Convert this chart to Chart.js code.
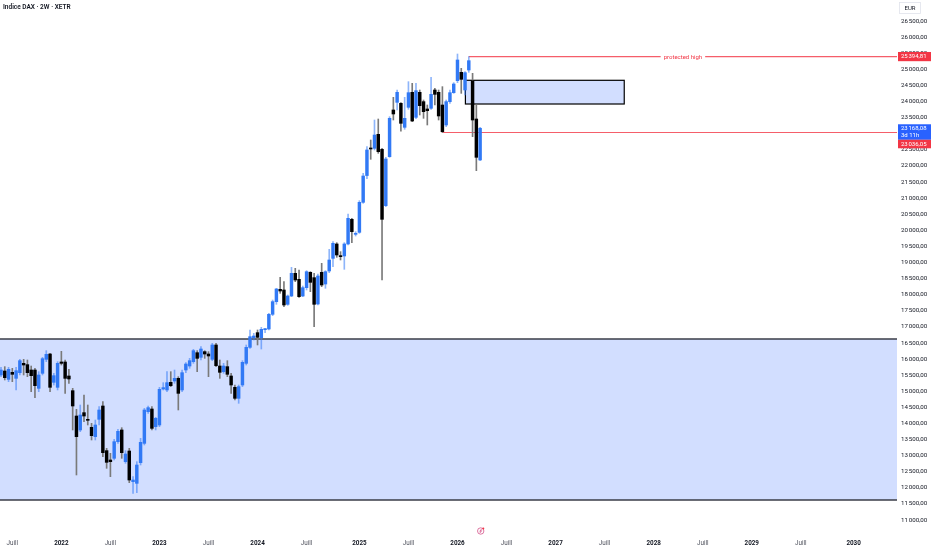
<!DOCTYPE html>
<html>
<head>
<meta charset="utf-8">
<title>Indice DAX 2W</title>
<script src="https://cdn.jsdelivr.net/npm/chart.js@4.4.1/dist/chart.umd.min.js"></script>
<style>
  html, body { margin: 0; padding: 0; background: #fff; }
  #wrap { width: 932px; height: 550px; position: relative; }
</style>
</head>
<body>
<div id="wrap"><canvas id="dax"></canvas></div>
<script>
// biweekly candles (oldest first)
const opens = [
  15505, 15629, 15370, 15588, 15401, 15577, 15867, 15826, 15660, 15660,
  15091, 15557, 15991, 16157, 15277, 15122, 15909, 15909, 15474, 15018,
  14231, 13797, 14335, 14128, 13879, 13590, 14128, 14542, 13155, 12865,
  12917, 13434, 13797, 12813, 13144, 12192, 12140, 12782, 13382, 14366,
  14449, 13900, 13952, 15070, 15039, 15277, 15319, 15401, 15039, 15660,
  15784, 15919, 16198, 16054, 16230, 16157, 15991, 16437, 15784, 15608,
  15764, 15474, 15122, 14780, 15194, 15867, 16364, 16665, 16820, 16665,
  16913, 16934, 17389, 17783, 18166, 18145, 17700, 17958, 18663, 18476,
  17958, 18217, 18694, 18528, 17710, 18694, 18331, 18735, 19128, 19574,
  19212, 19201, 19574, 20340, 19874, 19936, 20868, 21700, 22545, 22545,
  22980, 22514, 20765, 22286, 23736, 23974, 23943, 23198, 23819, 24285,
  23508, 24285, 23995, 23767, 23788, 24357, 24285, 23891, 23270, 23995,
  24274, 24647, 24906, 24357, 24978, 24647, 23456, 22183
];
const highs = [
  15743, 15764, 15743, 15712, 15743, 15991, 15991, 15971, 15784, 15712,
  15608, 16054, 16261, 16178, 15557, 15919, 16240, 15971, 15681, 15091,
  14438, 14573, 14884, 14573, 14004, 14107, 14521, 14677, 13227, 13072,
  13507, 13817, 13869, 13155, 13227, 12347, 12813, 13538, 14469, 14542,
  14521, 14190, 15122, 15267, 15608, 15608, 15660, 15453, 15660, 15888,
  16022, 16302, 16261, 16385, 16261, 16230, 16488, 16488, 15971, 15867,
  15950, 15557, 15194, 15194, 15950, 16437, 16903, 16799, 16903, 16985,
  16954, 17420, 17834, 18197, 18539, 18404, 17990, 18849, 18818, 18766,
  18269, 18745, 18714, 18663, 18642, 18973, 18745, 19408, 19646, 19615,
  19336, 19615, 20506, 20371, 19957, 20920, 21769, 22597, 22804, 23425,
  23456, 22545, 22266, 23529, 24129, 24357, 23964, 24129, 24616, 24564,
  24564, 24357, 24046, 23891, 24750, 24409, 24357, 24461, 24046, 24357,
  24585, 25475, 25030, 24926, 25394.81, 24875, 23891, 23200
];
const lows = [
  15453, 15350, 15298, 15298, 15039, 15505, 15505, 15453, 14987, 14801,
  14987, 15505, 15919, 14987, 15194, 15039, 15815, 14935, 15246, 13797,
  12399, 13745, 14055, 13952, 13486, 13486, 13952, 12968, 12606, 12347,
  12865, 13382, 12917, 12761, 12161, 11830, 11850, 12709, 13331, 14314,
  13797, 13797, 13900, 15039, 14987, 15143, 15246, 14418, 14987, 15577,
  15712, 15867, 15608, 15971, 16022, 15453, 15950, 15764, 15401, 15557,
  15453, 14935, 14728, 14625, 15143, 15815, 16333, 16592, 16437, 16312,
  16820, 16903, 17348, 17700, 18042, 17627, 17669, 17938, 18404, 17917,
  17938, 18145, 18093, 17006, 17679, 18249, 18197, 18683, 18870, 19160,
  19077, 18787, 19543, 19615, 19822, 19905, 20837, 21600, 22204, 22494,
  22390, 18456, 20734, 22266, 23425, 23736, 23080, 23136, 23757, 23374,
  23467, 23581, 23477, 23270, 23757, 23891, 23425, 23036, 23218, 23943,
  24253, 24585, 24253, 24202, 24906, 22908, 21852, 22162
];
const closes = [
  15660, 15422, 15681, 15526, 15639, 15950, 15815, 15577, 15484, 15174,
  15505, 16012, 16147, 15122, 15484, 15867, 15867, 15401, 15381, 14542,
  13590, 14262, 14231, 14097, 13621, 13952, 14418, 13093, 12792, 12813,
  13434, 13755, 13093, 13051, 12243, 12243, 12709, 13413, 14418, 14490,
  13848, 14159, 15060, 15112, 15267, 15174, 15401, 14935, 15577, 15846,
  15950, 16261, 16022, 16312, 16157, 16095, 16437, 15795, 15588, 15784,
  15526, 15194, 14780, 15143, 15898, 16364, 16695, 16716, 16675, 16923,
  16934, 17389, 17783, 18176, 18114, 17679, 17958, 18663, 18456, 17938,
  18217, 18714, 18383, 17700, 18580, 18300, 18714, 19077, 19594, 19232,
  19180, 19574, 20371, 19957, 19905, 20868, 21686, 22494, 22525, 22959,
  22442, 20340, 22214, 23477, 23612, 24285, 23322, 23477, 24274, 23394,
  24336, 23871, 23684, 23715, 24222, 24222, 23550, 23063, 23995, 24274,
  24543, 25289, 24688, 24895, 25268, 23425, 22266, 23168.08
];

// time axis: bar index of each label
const xTickBars = [3, 16, 29, 42, 55, 68, 81, 95, 108, 121, 134, 147, 160, 173, 186, 199, 212, 226];
const xTickLabels = ["Juill", "2022", "Juill", "2023", "Juill", "2024", "Juill", "2025", "Juill",
  "2026", "Juill", "2027", "Juill", "2028", "Juill", "2029", "Juill", "2030"];
const yTicks = [11000, 11500, 12000, 12500, 13000, 13500, 14000, 14500, 15000, 15500, 16000,
  16500, 17000, 17500, 18000, 18500, 19000, 19500, 20000, 20500, 21000, 21500, 22000,
  22500, 23000, 23500, 24000, 24500, 25000, 25500, 26000, 26500];

// drawings on the chart
const zoneLevels = [11622, 16623];
const boxLevels = [23922, 24658];
const boxBars = [123.1, 165.2];
const protectedHigh = 25394.81;
const protectedHighBar = 124;
const supportLevel = 23036.05;
const supportBar = 117;
const lastPrice = 23168.08;
const countdown = "3d 11h";

const BULL = "#3179f5";
const BULL_WICK = "rgba(49, 121, 245, 0.55)";
const BEAR = "#000000";
const BEAR_WICK = "#7a7a7a";
const RED = "#f23645";
const FONT = "Roboto, 'Noto Sans', sans-serif";

function fmt(v) {
  const parts = v.toFixed(2).split(".");
  return parts[0].replace(/\B(?=(\d{3})+(?!\d))/g, "\u202f") + "," + parts[1];
}

function isBull(i) {
  return i === undefined || closes[i] >= opens[i];
}

// no extra room for edge labels: the pane runs to the canvas edges
function noPadding(s) {
  s.paddingLeft = 0;
  s.paddingRight = 0;
  s.paddingTop = 0;
  s.paddingBottom = 0;
}

const bodies = opens.map((o, i) => ({ x: i, y: [o, closes[i]] }));
const wicks = lows.map((l, i) => ({ x: i, y: [l, highs[i]] }));

const drawings = {
  id: "drawings",
  beforeDatasetsDraw(chart) {
    const { ctx, chartArea: a, scales: { x, y } } = chart;
    ctx.save();

    // demand zone
    const zt = y.getPixelForValue(zoneLevels[1]);
    const zb = y.getPixelForValue(zoneLevels[0]);
    ctx.fillStyle = "rgba(41, 98, 255, 0.21)";
    ctx.fillRect(a.left, zt, a.right - a.left, zb - zt);
    ctx.strokeStyle = "#3b3e48";
    ctx.lineWidth = 1.5;
    ctx.beginPath();
    ctx.moveTo(a.left, zt); ctx.lineTo(a.right, zt);
    ctx.moveTo(a.left, zb); ctx.lineTo(a.right, zb);
    ctx.stroke();

    // rectangle
    const bl = x.getPixelForValue(boxBars[0]);
    const br = x.getPixelForValue(boxBars[1]);
    const bt = y.getPixelForValue(boxLevels[1]);
    const bb = y.getPixelForValue(boxLevels[0]);
    ctx.fillStyle = "rgba(41, 98, 255, 0.21)";
    ctx.fillRect(bl, bt, br - bl, bb - bt);
    ctx.strokeStyle = "#000";
    ctx.lineWidth = 1.2;
    ctx.strokeRect(bl, bt, br - bl, bb - bt);

    // red levels
    ctx.strokeStyle = "rgba(242, 54, 69, 0.8)";
    ctx.lineWidth = 1.1;
    const ph = y.getPixelForValue(protectedHigh);
    const phx = x.getPixelForValue(protectedHighBar);
    ctx.font = "6px " + FONT;
    const label = "protected high";
    const tw = ctx.measureText(label).width;
    const mid = (phx + a.right) / 2;
    ctx.beginPath();
    ctx.moveTo(phx, ph); ctx.lineTo(mid - tw / 2 - 3, ph);
    ctx.moveTo(mid + tw / 2 + 3, ph); ctx.lineTo(a.right, ph);
    const sy = y.getPixelForValue(supportLevel);
    ctx.moveTo(x.getPixelForValue(supportBar), sy); ctx.lineTo(a.right, sy);
    ctx.stroke();
    ctx.fillStyle = RED;
    ctx.textAlign = "center";
    ctx.textBaseline = "middle";
    ctx.fillText(label, mid, ph + 0.5);
    ctx.restore();
  },
  afterDraw(chart) {
    const { ctx, chartArea: a, scales: { y } } = chart;
    const w = chart.width;
    ctx.save();
    ctx.textBaseline = "middle";

    // title
    ctx.fillStyle = "#131722";
    ctx.textAlign = "left";
    ctx.font = "600 6.5px " + FONT;
    ctx.fillText("Indice DAX \u00b7 2W \u00b7 XETR", 3, 7.5);

    // currency
    ctx.strokeStyle = "#e0e3eb";
    ctx.lineWidth = 0.8;
    ctx.strokeRect(a.right + 2.5, 2.5, 21, 11);
    ctx.font = "6px " + FONT;
    ctx.textAlign = "center";
    ctx.fillText("EUR", a.right + 13, 8.2);

    // price labels on the axis
    const bx = a.right + 1;
    const bw = w - bx - 1;
    ctx.textAlign = "left";
    const ph = y.getPixelForValue(protectedHigh);
    ctx.fillStyle = RED;
    ctx.fillRect(bx, ph - 4.6, bw, 9.2);
    ctx.fillStyle = "#fff";
    ctx.fillText(fmt(protectedHigh), bx + 3, ph + 0.3);

    const lp = y.getPixelForValue(lastPrice);
    ctx.fillStyle = "#2962ff";
    ctx.fillRect(bx, lp - 4, bw, 15.5);
    ctx.fillStyle = "#fff";
    ctx.fillText(fmt(lastPrice), bx + 3, lp);
    ctx.fillText(countdown, bx + 3, lp + 7);

    const st = lp + 11.5;
    ctx.fillStyle = RED;
    ctx.fillRect(bx, st, bw, 8.5);
    ctx.fillStyle = "#fff";
    ctx.fillText(fmt(supportLevel), bx + 3, st + 4.4);

    // event marker under the last bar
    ctx.strokeStyle = "#d4548a";
    ctx.lineWidth = 0.8;
    ctx.beginPath();
    ctx.arc(480.7, 531, 3.2, 0, Math.PI * 2);
    ctx.stroke();
    ctx.beginPath();
    ctx.moveTo(481.6, 528.9); ctx.lineTo(479.8, 531.3); ctx.lineTo(481.6, 530.7); ctx.lineTo(479.8, 533.1);
    ctx.stroke();
    ctx.fillStyle = RED;
    ctx.beginPath();
    ctx.arc(483.3, 528.4, 1, 0, Math.PI * 2);
    ctx.fill();
    ctx.restore();
  }
};

new Chart(document.getElementById("dax"), {
  type: "bar",
  data: {
    datasets: [
      {
        label: "body",
        data: bodies,
        order: 0,
        grouped: false,
        barThickness: 2.8,
        minBarLength: 1,
        borderWidth: 0,
        borderSkipped: false,
        backgroundColor: (c) => (isBull(c.dataIndex) ? BULL : BEAR),
      },
      {
        label: "wick",
        data: wicks,
        order: 1,
        grouped: false,
        barThickness: 1,
        borderWidth: 0,
        borderSkipped: false,
        backgroundColor: (c) => (isBull(c.dataIndex) ? BULL_WICK : BEAR_WICK),
      },
    ],
  },
  plugins: [drawings],
  options: {
    responsive: true,
    maintainAspectRatio: false,
    animation: false,
    layout: { padding: 0 },
    plugins: {
      legend: { display: false },
      tooltip: { enabled: false },
    },
    scales: {
      x: {
        type: "linear",
        min: -0.265,
        max: 237.5,
        offset: false,
        grid: { display: false, drawTicks: false },
        border: { display: false },
        afterFit: (s) => { s.height = 22; noPadding(s); },
        afterBuildTicks: (s) => { s.ticks = xTickBars.map((v) => ({ value: v })); },
        ticks: {
          autoSkip: false,
          maxRotation: 0,
          padding: 12,
          color: (c) => (xTickLabels[c.index] === "Juill" ? "#50535e" : "#131722"),
          font: (c) => ({
            family: FONT,
            size: 6.3,
            weight: xTickLabels[c.index] === "Juill" ? "normal" : "bold",
          }),
          callback: (v, i) => xTickLabels[i],
        },
      },
      y: {
        position: "right",
        min: 10752.6,
        max: 27152.3,
        grid: { display: false, drawTicks: false },
        border: { display: false },
        afterFit: (s) => { s.width = 35; noPadding(s); },
        afterBuildTicks: (s) => { s.ticks = yTicks.map((v) => ({ value: v })); },
        ticks: {
          padding: 4,
          color: "#131722",
          font: { family: FONT, size: 6.2 },
          callback: (v) => fmt(v),
        },
      },
    },
  },
});
</script>
</body>
</html>
